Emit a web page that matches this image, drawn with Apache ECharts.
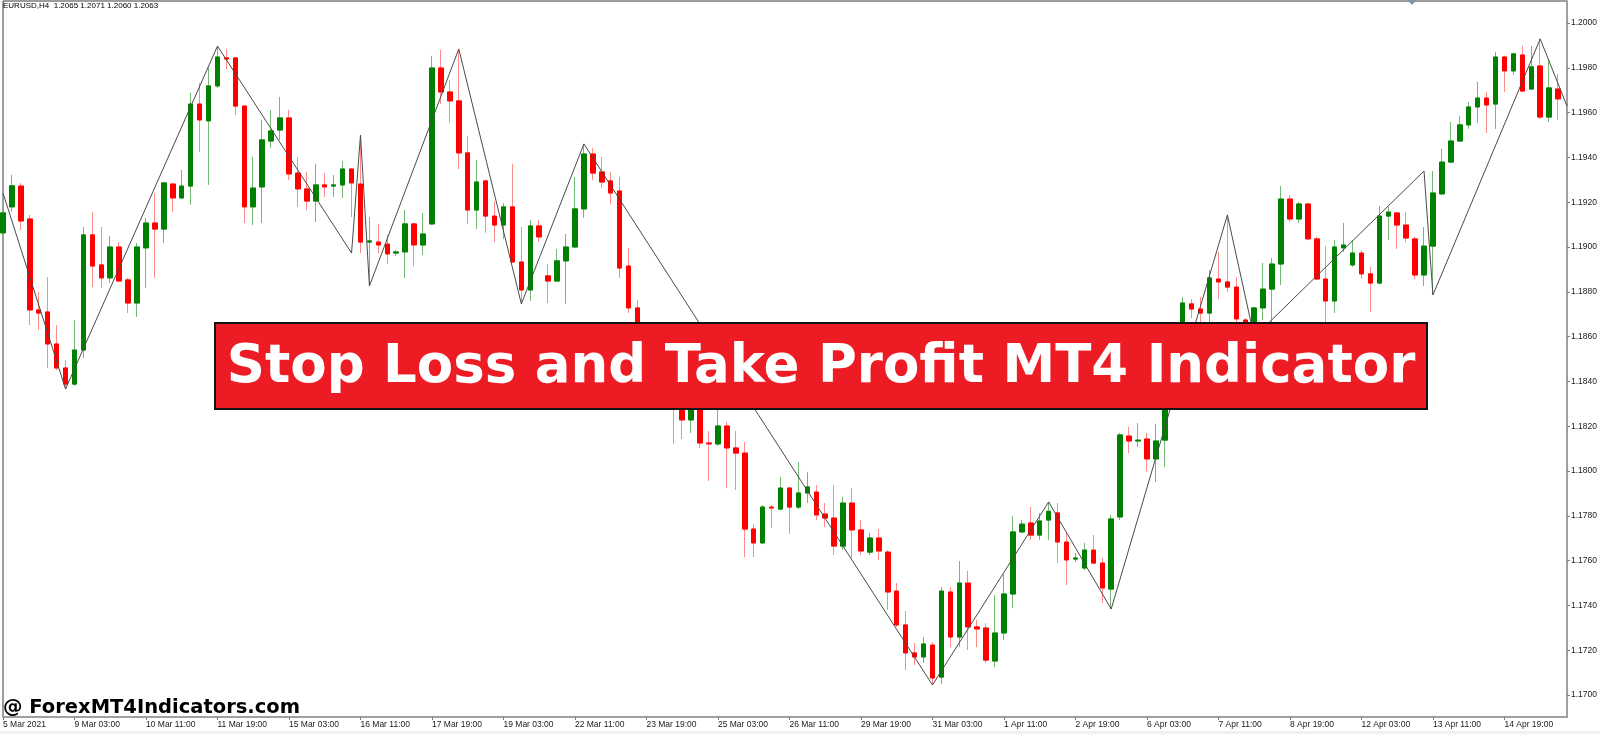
<!DOCTYPE html>
<html>
<head>
<meta charset="utf-8">
<title>EURUSD,H4</title>
<script src="https://cdn.jsdelivr.net/npm/echarts@6/dist/echarts.min.js"></script>
<style>
  html, body { margin: 0; padding: 0; background: #fff; }
  #chart { width: 1600px; height: 734px; }
</style>
</head>
<body>
<div id="chart"></div>
<script>
// H4 bars, 5 Mar 2021 19:00 .. 15 Apr 2021 19:00
var openPrices = [
  1.19063, 1.19179, 1.19272, 1.19125, 1.18719, 1.18710, 1.18567, 1.18460, 1.18388, 1.18540,
  1.19054, 1.18920, 1.18862, 1.19000, 1.18853, 1.18750, 1.18996, 1.19107, 1.19080, 1.19281,
  1.19219, 1.19272, 1.19638, 1.19563, 1.19719, 1.19844, 1.19844, 1.19629, 1.19179, 1.19268,
  1.19473, 1.19522, 1.19576, 1.19330, 1.19259, 1.19205, 1.19277, 1.19272, 1.19277, 1.19348,
  1.19281, 1.19022, 1.19022, 1.19013, 1.18973, 1.18978, 1.19103, 1.19009, 1.19103, 1.19799,
  1.19692, 1.19652, 1.19420, 1.19165, 1.19295, 1.19138, 1.19098, 1.19179, 1.18933, 1.18808,
  1.19094, 1.18871, 1.18848, 1.18938, 1.19000, 1.19170, 1.19415, 1.19335, 1.19295, 1.19250,
  1.18915, 1.18728, 1.18540, 1.18430, 1.18480, 1.18339, 1.18317, 1.18228, 1.18317, 1.18125,
  1.18121, 1.18201, 1.18103, 1.18080, 1.17741, 1.17679, 1.17839, 1.17830, 1.17924, 1.17839,
  1.17902, 1.17906, 1.17808, 1.17790, 1.17665, 1.17857, 1.17737, 1.17638, 1.17701, 1.17638,
  1.17464, 1.17313, 1.17188, 1.17170, 1.17223, 1.17080, 1.17460, 1.17259, 1.17500, 1.17304,
  1.17299, 1.17152, 1.17277, 1.17451, 1.17728, 1.17768, 1.17714, 1.17781, 1.17813, 1.17683,
  1.17607, 1.17567, 1.17647, 1.17589, 1.17473, 1.17795, 1.18156, 1.18134, 1.18143, 1.18054,
  1.18138, 1.18384, 1.18562, 1.18746, 1.18723, 1.18705, 1.18857, 1.18844, 1.18821, 1.18674,
  1.18629, 1.18728, 1.18812, 1.18924, 1.19214, 1.19125, 1.19192, 1.19036, 1.18857, 1.18759,
  1.18996, 1.18920, 1.18973, 1.18880, 1.18839, 1.19138, 1.19152, 1.19098, 1.19036, 1.18875,
  1.19004, 1.19237, 1.19379, 1.19473, 1.19545, 1.19625, 1.19665, 1.19638, 1.19848, 1.19786,
  1.19857, 1.19705, 1.19808, 1.19580, 1.19705
];
var closePrices = [
  1.19152, 1.19273, 1.19116, 1.18719, 1.18705, 1.18567, 1.18460, 1.18388, 1.18540, 1.19054,
  1.18915, 1.18862, 1.19000, 1.18848, 1.18750, 1.19000, 1.19107, 1.19080, 1.19286, 1.19219,
  1.19272, 1.19638, 1.19567, 1.19719, 1.19848, 1.19839, 1.19629, 1.19179, 1.19263, 1.19478,
  1.19518, 1.19576, 1.19326, 1.19259, 1.19205, 1.19277, 1.19268, 1.19277, 1.19348, 1.19286,
  1.19022, 1.19027, 1.19009, 1.18969, 1.18978, 1.19103, 1.19009, 1.19058, 1.19799, 1.19692,
  1.19652, 1.19420, 1.19165, 1.19290, 1.19138, 1.19098, 1.19179, 1.18933, 1.18808, 1.19094,
  1.19045, 1.18848, 1.18938, 1.19000, 1.19170, 1.19415, 1.19330, 1.19290, 1.19241, 1.18906,
  1.18728, 1.18540, 1.18430, 1.18480, 1.18360, 1.18295, 1.18228, 1.18317, 1.18125, 1.18121,
  1.18201, 1.18103, 1.18080, 1.17741, 1.17679, 1.17839, 1.17835, 1.17924, 1.17839, 1.17902,
  1.17929, 1.17804, 1.17790, 1.17665, 1.17857, 1.17737, 1.17643, 1.17701, 1.17643, 1.17460,
  1.17313, 1.17188, 1.17170, 1.17228, 1.17076, 1.17464, 1.17259, 1.17500, 1.17304, 1.17295,
  1.17156, 1.17277, 1.17451, 1.17728, 1.17763, 1.17714, 1.17777, 1.17820, 1.17683, 1.17603,
  1.17612, 1.17647, 1.17589, 1.17478, 1.17786, 1.18161, 1.18134, 1.18138, 1.18054, 1.18134,
  1.18384, 1.18562, 1.18750, 1.18723, 1.18705, 1.18862, 1.18844, 1.18821, 1.18679, 1.18620,
  1.18728, 1.18812, 1.18924, 1.19214, 1.19125, 1.19192, 1.19036, 1.18857, 1.18759, 1.19000,
  1.19009, 1.18973, 1.18880, 1.18839, 1.19138, 1.19156, 1.19098, 1.19040, 1.18875, 1.19004,
  1.19241, 1.19379, 1.19473, 1.19545, 1.19625, 1.19665, 1.19634, 1.19848, 1.19786, 1.19862,
  1.19696, 1.19804, 1.19580, 1.19710, 1.19661
];
var lowPrices = [
  1.19049, 1.19157, 1.19076, 1.18652, 1.18630, 1.18460, 1.18451, 1.18366, 1.18380, 1.18504,
  1.18821, 1.18817, 1.18839, 1.18844, 1.18705, 1.18688, 1.18817, 1.18862, 1.19018, 1.19156,
  1.19214, 1.19188, 1.19424, 1.19277, 1.19710, 1.19795, 1.19589, 1.19107, 1.19098, 1.19107,
  1.19442, 1.19478, 1.19299, 1.19179, 1.19165, 1.19112, 1.19223, 1.19223, 1.19219, 1.19134,
  1.18973, 1.18826, 1.18973, 1.18924, 1.18960, 1.18862, 1.18915, 1.18964, 1.19098, 1.19638,
  1.19554, 1.19348, 1.19103, 1.19080, 1.19063, 1.19022, 1.19036, 1.18929, 1.18746, 1.18759,
  1.19022, 1.18750, 1.18844, 1.18746, 1.18996, 1.19130, 1.19299, 1.19263, 1.19190, 1.18862,
  1.18705, 1.18504, 1.18400, 1.18380, 1.18330, 1.18121, 1.18143, 1.18170, 1.18103, 1.17955,
  1.18112, 1.17924, 1.17915, 1.17616, 1.17616, 1.17674, 1.17746, 1.17826, 1.17719, 1.17830,
  1.17857, 1.17781, 1.17750, 1.17625, 1.17647, 1.17612, 1.17625, 1.17625, 1.17603, 1.17380,
  1.17304, 1.17112, 1.17134, 1.17143, 1.17045, 1.17049, 1.17214, 1.17214, 1.17201, 1.17214,
  1.17143, 1.17125, 1.17246, 1.17388, 1.17723, 1.17692, 1.17692, 1.17692, 1.17589, 1.17491,
  1.17594, 1.17558, 1.17589, 1.17411, 1.17384, 1.17781, 1.18080, 1.18107, 1.17996, 1.17951,
  1.18018, 1.18353, 1.18540, 1.18683, 1.18638, 1.18652, 1.18768, 1.18799, 1.18652, 1.18603,
  1.18598, 1.18674, 1.18661, 1.18830, 1.19112, 1.19107, 1.19031, 1.18853, 1.18665, 1.18705,
  1.18978, 1.18911, 1.18857, 1.18710, 1.18835, 1.19031, 1.18991, 1.19022, 1.18857, 1.18826,
  1.18786, 1.19232, 1.19375, 1.19469, 1.19527, 1.19554, 1.19509, 1.19527, 1.19692, 1.19768,
  1.19692, 1.19701, 1.19571, 1.19558, 1.19567
];
var highPrices = [
  1.19165, 1.19322, 1.19286, 1.19143, 1.18799, 1.18866, 1.18652, 1.18496, 1.18674, 1.19089,
  1.19156, 1.19089, 1.19049, 1.19022, 1.18862, 1.19018, 1.19130, 1.19241, 1.19290, 1.19286,
  1.19344, 1.19688, 1.19732, 1.19799, 1.19897, 1.19884, 1.19848, 1.19634, 1.19402, 1.19567,
  1.19612, 1.19670, 1.19612, 1.19402, 1.19335, 1.19371, 1.19330, 1.19321, 1.19384, 1.19353,
  1.19500, 1.19134, 1.19103, 1.19054, 1.18987, 1.19165, 1.19107, 1.19152, 1.19853, 1.19880,
  1.19746, 1.19884, 1.19496, 1.19388, 1.19299, 1.19205, 1.19196, 1.19371, 1.19089, 1.19121,
  1.19121, 1.18924, 1.18991, 1.19058, 1.19313, 1.19460, 1.19442, 1.19402, 1.19335, 1.19313,
  1.18996, 1.18763, 1.18570, 1.18510, 1.18500, 1.18384, 1.18353, 1.18353, 1.18339, 1.18179,
  1.18295, 1.18219, 1.18179, 1.18129, 1.17763, 1.17848, 1.17848, 1.17973, 1.17929, 1.18040,
  1.17996, 1.17938, 1.17857, 1.17938, 1.17884, 1.17924, 1.17781, 1.17723, 1.17741, 1.17647,
  1.17500, 1.17375, 1.17232, 1.17259, 1.17237, 1.17482, 1.17482, 1.17598, 1.17554, 1.17335,
  1.17321, 1.17446, 1.17540, 1.17799, 1.17781, 1.17839, 1.17813, 1.17862, 1.17857, 1.17723,
  1.17634, 1.17679, 1.17714, 1.17612, 1.17804, 1.18170, 1.18196, 1.18214, 1.18170, 1.18210,
  1.18429, 1.18594, 1.18777, 1.18768, 1.18777, 1.18897, 1.18978, 1.19143, 1.18866, 1.18683,
  1.18732, 1.18929, 1.18951, 1.19272, 1.19232, 1.19201, 1.19196, 1.19045, 1.19004, 1.19031,
  1.19107, 1.19031, 1.18987, 1.18911, 1.19183, 1.19179, 1.19156, 1.19156, 1.19045, 1.19089,
  1.19339, 1.19438, 1.19558, 1.19585, 1.19647, 1.19737, 1.19692, 1.19871, 1.19853, 1.19866,
  1.19897, 1.19897, 1.19929, 1.19835, 1.19772
];

// zigzag vertices: bar index and price
var zigzagBars = [0, 7, 24, 39, 40, 41, 51, 58, 65, 104, 117, 124, 137, 140, 159, 160, 172, 175];
var zigzagPrices = [1.19241, 1.18366, 1.19897, 1.18973, 1.19500, 1.18826, 1.19884, 1.18746,
  1.19460, 1.17045, 1.17862, 1.17384, 1.19143, 1.18598, 1.19339, 1.18786, 1.19929, 1.19629];

// one label every 8 bars
var tickLabels = ['5 Mar 2021', '9 Mar 03:00', '10 Mar 11:00', '11 Mar 19:00', '15 Mar 03:00',
  '16 Mar 11:00', '17 Mar 19:00', '19 Mar 03:00', '22 Mar 11:00', '23 Mar 19:00', '25 Mar 03:00',
  '26 Mar 11:00', '29 Mar 19:00', '31 Mar 03:00', '1 Apr 11:00', '2 Apr 19:00', '6 Apr 03:00',
  '7 Apr 11:00', '8 Apr 19:00', '12 Apr 03:00', '13 Apr 11:00', '14 Apr 19:00'];
var priceTicks = [1.1700, 1.1720, 1.1740, 1.1760, 1.1780, 1.1800, 1.1820, 1.1840,
  1.1860, 1.1880, 1.1900, 1.1920, 1.1940, 1.1960, 1.1980, 1.2000];

// bar slots: 175 bars plus one empty slot at the right edge
var categories = [];
for (var i = 0; i <= openPrices.length; i++) categories.push(i);

var wickData = [];
var bodyData = [];
for (var i = 0; i < openPrices.length; i++) {
  var o = openPrices[i], c = closePrices[i];
  wickData.push([o, c, lowPrices[i], highPrices[i]]);
  bodyData.push([o, c, Math.min(o, c), Math.max(o, c)]);
}

var zigzagData = categories.map(function () { return null; });
zigzagBars.forEach(function (b, k) { zigzagData[b] = zigzagPrices[k]; });

function everyEighth(i) { return i % 8 === 0; }

var chart = echarts.init(document.getElementById('chart'));
var option = {
  animation: false,
  backgroundColor: '#ffffff',
  grid: {
    left: 0, right: 30, top: 1, bottom: 17,
    show: true, borderColor: '#3a3a3a', borderWidth: 1
  },
  xAxis: {
    type: 'category',
    data: categories,
    boundaryGap: false,
    axisLine: { lineStyle: { color: '#a0a0a0', width: 2 } },
    axisTick: { interval: everyEighth, length: 3, lineStyle: { color: '#808080' } },
    axisLabel: {
      interval: everyEighth,
      formatter: function (v, idx) { return idx % 8 === 0 ? (tickLabels[idx / 8] || '') : ''; },
      align: 'left',
      margin: 3,
      fontSize: 8.5,
      fontFamily: 'Liberation Sans',
      color: '#1a1a1a'
    },
    splitLine: { show: false }
  },
  yAxis: {
    type: 'value',
    position: 'right',
    min: 1.16902,
    max: 1.20098,
    axisLine: { show: true, lineStyle: { color: '#a0a0a0', width: 2 } },
    axisTick: { show: true, customValues: priceTicks, length: 3, lineStyle: { color: '#808080' } },
    axisLabel: {
      customValues: priceTicks,
      formatter: function (v) { return v.toFixed(4); },
      margin: 4,
      fontSize: 8.5,
      fontFamily: 'Liberation Sans',
      color: '#1a1a1a'
    },
    splitLine: { show: false }
  },
  series: [
    {
      name: 'wicks',
      type: 'candlestick',
      data: wickData,
      barWidth: 5,
      z: 2,
      silent: true,
      itemStyle: {
        color: '#74b974', color0: '#ff8a8a',
        borderColor: '#74b974', borderColor0: '#ff8a8a', borderWidth: 1
      }
    },
    {
      name: 'bodies',
      type: 'candlestick',
      data: bodyData,
      barWidth: 5,
      z: 3,
      silent: true,
      itemStyle: {
        color: '#008000', color0: '#ff0000',
        borderColor: '#008000', borderColor0: '#ff0000', borderWidth: 1
      }
    },
    {
      name: 'zigzag',
      type: 'line',
      data: zigzagData,
      connectNulls: true,
      symbol: 'none',
      silent: true,
      z: 4,
      lineStyle: { color: '#4a4a4a', width: 1 }
    }
  ],
  graphic: [
    {
      type: 'text', z: 100, left: 3, top: 2,
      style: { text: 'EURUSD,H4  1.2065 1.2071 1.2060 1.2063', font: '8px "Liberation Sans"', fill: '#000' }
    },
    {
      type: 'polygon', z: 100,
      shape: { points: [[1407, 0], [1417, 0], [1412, 5]] },
      style: { fill: '#8796a6' }
    },
    {
      type: 'rect', z: 100,
      shape: { x: 215, y: 323, width: 1212, height: 86 },
      style: { fill: '#ed1c24', stroke: '#141414', lineWidth: 2 }
    },
    {
      type: 'text', z: 101, x: 821, y: 368,
      style: {
        text: 'Stop Loss and Take Profit MT4 Indicator',
        font: 'bold 53px "DejaVu Sans"', fill: '#ffffff',
        textAlign: 'center', textVerticalAlign: 'middle'
      }
    },
    {
      type: 'text', z: 101, x: 3, y: 708,
      style: {
        text: '@ ForexMT4Indicators.com',
        font: 'bold 19.5px "DejaVu Sans"', fill: '#000000',
        textAlign: 'left', textVerticalAlign: 'middle'
      }
    },
    {
      type: 'rect', z: 100,
      shape: { x: 0, y: 731, width: 1600, height: 3 },
      style: { fill: '#f0f0f0' }
    }
  ]
};
chart.setOption(option);
</script>
</body>
</html>
